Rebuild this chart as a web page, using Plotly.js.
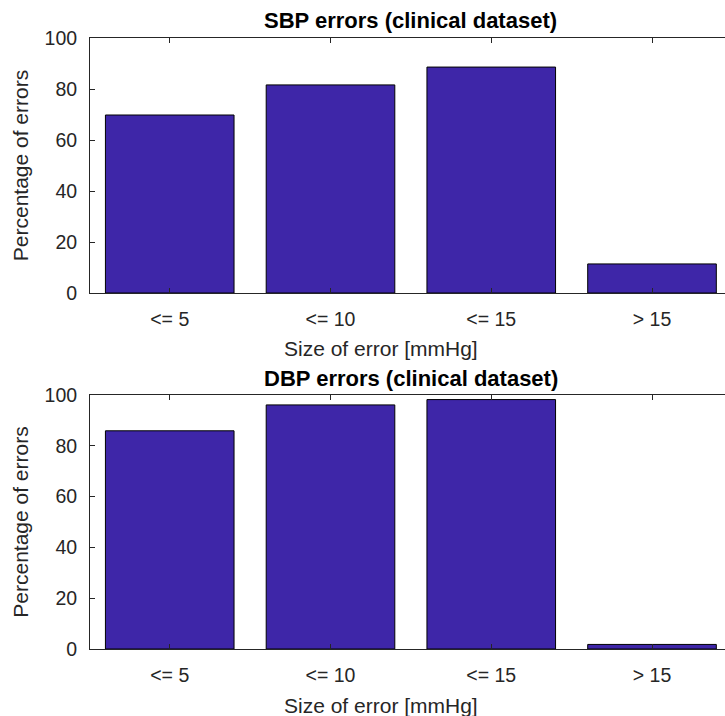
<!DOCTYPE html>
<html>
<head>
<meta charset="utf-8">
<script src="https://cdn.plot.ly/plotly-3.0.1.min.js"></script>
<style>html,body{margin:0;padding:0;background:#fff;}#chart{width:725px;height:716px;}</style>
</head>
<body>
<div id="chart"></div>
<script>
const categories = ['<= 5', '<= 10', '<= 15', '> 15'];
const sbpValues = [69.8, 81.6, 88.6, 11.4];
const dbpValues = [85.9, 96.1, 98.2, 1.8];
const yTicks = [0, 20, 40, 60, 80, 100];
const sbpTitle = 'SBP errors (clinical dataset)';
const dbpTitle = 'DBP errors (clinical dataset)';
const xTitle = 'Size of error [mmHg]';
const yTitle = 'Percentage of errors';

const barColor = 'rgb(62,38,168)';
const axisColor = '#262626';
const font = 'Liberation Sans, Arial, Helvetica, sans-serif';

function bar(vals, xa, ya) {
  return {
    type: 'bar', x: categories, y: vals, xaxis: xa, yaxis: ya,
    width: 0.8, marker: {color: barColor, line: {color: '#000', width: 1}},
    hoverinfo: 'skip'
  };
}

const W = 725, H = 716;
const xLeft = 90 / W;
const xr = [-0.496, 3.454];

function xaxis(anchor) {
  return {
    domain: [xLeft, 1], range: xr, anchor: anchor, type: 'category',
    categoryorder: 'array', categoryarray: categories,
    showline: true, linecolor: axisColor, linewidth: 1, mirror: 'ticks',
    ticks: 'inside', ticklen: 5, tickcolor: axisColor, showgrid: false, zeroline: false,
    tickfont: {family: font, size: 19.5, color: axisColor},
    ticklabelstandoff: 9,
    fixedrange: true
  };
}
function yaxis(anchor, dom) {
  return {
    domain: dom, range: [0, 100], anchor: anchor, tickvals: yTicks,
    showline: true, linecolor: axisColor, linewidth: 1, mirror: false,
    ticks: 'inside', ticklen: 5, tickcolor: axisColor, showgrid: false, zeroline: false,
    tickfont: {family: font, size: 19.5, color: axisColor},
    ticklabelstandoff: 8,
    title: {text: yTitle, font: {family: font, size: 21, color: axisColor}, standoff: 10},
    fixedrange: true
  };
}

function label(text, x, y, size, color) {
  return {text: text, xref: 'paper', yref: 'paper', x: x / W, y: 1 - y / H,
          showarrow: false, font: {family: font, size: size, color: color},
          xanchor: 'center', yanchor: 'middle'};
}

const layout = {
  width: W, height: H,
  margin: {l: 0, r: 0, t: 0, b: 0},
  paper_bgcolor: '#fff', plot_bgcolor: '#fff',
  showlegend: false,
  xaxis: xaxis('y'),
  yaxis: yaxis('x', [1 - 293 / H, 1 - 38 / H]),
  xaxis2: xaxis('y2'),
  yaxis2: yaxis('x2', [1 - 649 / H, 1 - 395 / H]),
  annotations: [
    label('<b>' + sbpTitle + '</b>', 411, 20, 22, '#000'),
    label('<b>' + dbpTitle + '</b>', 411, 378, 22, '#000'),
    label(xTitle, 381, 348, 21, axisColor),
    label(xTitle, 381, 705, 21, axisColor)
  ]
};

Plotly.newPlot('chart', [bar(sbpValues, 'x', 'y'), bar(dbpValues, 'x2', 'y2')], layout, {displayModeBar: false, staticPlot: true});
</script>
</body>
</html>
